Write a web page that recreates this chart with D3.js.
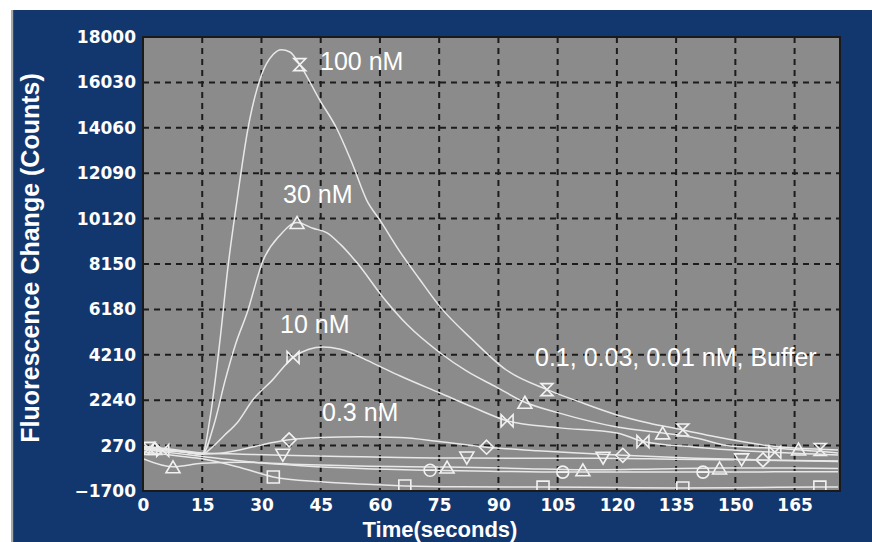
<!DOCTYPE html>
<html>
<head>
<meta charset="utf-8">
<script src="https://cdn.jsdelivr.net/npm/d3@7"></script>
<style>
  body { margin: 0; background: #fff; }
  svg { display: block; }
</style>
</head>
<body>
<div id="chart"></div>
<script>
const width = 872;
const height = 542;

// plot box inside the blue panel
const plot = { left: 143, right: 840, top: 37, bottom: 491 };

const xTicks = [0, 15, 30, 45, 60, 75, 90, 105, 120, 135, 150, 165];
const yTicks = [-1700, 270, 2240, 4210, 6180, 8150, 10120, 12090, 14060, 16030, 18000];

// [time (s), fluorescence change (counts)]
const nM100 = [[0, 150], [5, 100], [10, 0], [15, -100], [17, 1500], [19.5, 4850], [21.5, 8000], [23.8, 10900],
  [26.6, 14050], [30, 16350], [33, 17250], [35, 17450], [37.2, 17350], [39.7, 16800], [44.8, 15250], [49, 14050],
  [53, 12500], [56.7, 10900], [60, 10050], [65, 8700], [70, 7500], [75.2, 6300], [83.5, 4850], [92, 3550],
  [102.3, 2700], [110, 2200], [120, 1600], [128, 1250], [136.7, 950], [145, 650], [157, 300], [166, 150], [176, 80]];
const nM30 = [[0, 200], [5, 100], [10, 0], [15, -100], [18, 1200], [20.8, 3100], [23.5, 4700], [26.3, 6000],
  [30.4, 8300], [34.7, 9400], [39, 9950], [43, 9700], [46.6, 9500], [50, 9000], [54.2, 8200], [60.8, 6700],
  [67, 5500], [75.2, 4300], [82, 3500], [89.6, 2800], [96.7, 2150], [105, 1700], [120, 1080], [131.6, 820],
  [140, 600], [148.6, 250], [160, 150], [176, -50]];
const nM10 = [[0, 150], [5, 50], [10, 0], [15, -100], [17.5, 200], [20.5, 700], [23.8, 1250], [27.8, 2250],
  [32.7, 3100], [38, 4100], [42, 4450], [45.6, 4550], [50, 4450], [58.2, 3850], [65, 3300], [75.2, 2550],
  [84, 1900], [92.2, 1350], [105, 1050], [120, 820], [126.6, 450], [140, 200], [157, 0], [176, -140]];
const nM03 = [[0, 200], [5, 100], [10, 0], [15, -100], [20, -50], [25, 100], [30, 300], [37, 520], [45, 620],
  [55, 650], [65, 620], [75, 450], [87, 200], [100, 50], [110, -50], [121.5, -150], [140, -280], [157, -350], [176, -420]];
const nM01 = [[0, 250], [5, 150], [10, 50], [15, -50], [25, -100], [35.4, -150], [50, -200], [65, -250], [82, -270],
  [100, -280], [116.5, -280], [135, -320], [151.6, -350], [165, -380], [176, -400]];
const nM003 = [[0, -300], [7.6, -650], [15, -500], [25, -450], [40, -550], [55, -620], [77, -660], [95, -720],
  [111.4, -780], [130, -740], [146, -700], [160, -700], [176, -720]];
const nM001 = [[0, 100], [10, -100], [15, -200], [25, -400], [40, -600], [55, -720], [72.7, -800], [90, -850],
  [106.3, -880], [125, -880], [141.8, -880], [160, -870], [176, -870]];
const buffer = [[0, 0], [5, -100], [10, -200], [15, -300], [25, -700], [33, -1090], [45, -1300], [55, -1400],
  [66.3, -1480], [80, -1520], [101.3, -1530], [120, -1550], [136.7, -1570], [155, -1550], [171.4, -1530], [176, -1530]];

// symbol positions on each trace
const marks100 = [[1.5, 150], [39.7, 16800], [102.3, 2700], [136.7, 950], [171.5, 100]];
const marks30 = [[3, 150], [39, 9950], [96.7, 2150], [131.6, 820], [166, 120]];
const marks10 = [[5, 60], [38, 4100], [92.2, 1350], [126.6, 450], [160, -20]];
const marks03 = [[37, 520], [87, 200], [121.5, -150], [157, -350]];
const marks01 = [[35.4, -150], [82, -270], [116.5, -280], [151.6, -350]];
const marks003 = [[7.6, -650], [77, -660], [111.4, -780], [146, -700]];
const marks001 = [[72.7, -800], [106.3, -880], [141.8, -880]];
const marksBuf = [[33, -1090], [66.3, -1480], [101.3, -1530], [136.7, -1570], [171.4, -1530]];

const labelNames = ['100 nM', '30 nM', '10 nM', '0.3 nM', '0.1, 0.03, 0.01 nM, Buffer'];

const symbols = {
  hourglass: 'M-6,-6H6L-6,6H6Z',
  bowtie: 'M-6,-6V6L6,-6V6Z',
  up: 'M0,-6L7,6H-7Z',
  down: 'M0,6L7,-6H-7Z',
  diamond: 'M0,-7L7,0L0,7L-7,0Z',
  circle: 'M-6,0A6,6 0 1,0 6,0A6,6 0 1,0 -6,0ZM-6,0H6',
  square: 'M-6,-6H6V6H-6Z'
};

const series = [
  { data: nM100, marks: marks100, sym: 'hourglass' },
  { data: nM30, marks: marks30, sym: 'up' },
  { data: nM10, marks: marks10, sym: 'bowtie' },
  { data: nM03, marks: marks03, sym: 'diamond' },
  { data: nM01, marks: marks01, sym: 'down' },
  { data: nM003, marks: marks003, sym: 'up' },
  { data: nM001, marks: marks001, sym: 'circle' },
  { data: buffer, marks: marksBuf, sym: 'square' }
];

const svg = d3.select('#chart').append('svg')
  .attr('width', width)
  .attr('height', height);

// blue panel with its grey left edge
svg.append('rect').attr('x', 11).attr('y', 10).attr('width', width - 11).attr('height', height - 10)
  .attr('fill', '#12376f');
svg.append('rect').attr('x', 11).attr('y', 10).attr('width', 2).attr('height', height - 10).attr('fill', '#a9a9a9');
svg.append('rect').attr('x', 13).attr('y', 10).attr('width', 1).attr('height', height - 10).attr('fill', '#4a4a4a');

const x = d3.scaleLinear().domain([0, 176.5]).range([plot.left, plot.right]);
const y = d3.scaleLinear().domain([-1700, 18000]).range([plot.bottom, plot.top]);

svg.append('rect')
  .attr('x', plot.left).attr('y', plot.top)
  .attr('width', plot.right - plot.left).attr('height', plot.bottom - plot.top)
  .attr('fill', '#8b8b8b');

// dashed grid
const grid = svg.append('g').attr('stroke', '#1c1c1c').attr('stroke-width', 2).attr('stroke-dasharray', '6,5');
grid.selectAll('.gx').data(xTicks.slice(1)).enter().append('line')
  .attr('x1', d => x(d)).attr('x2', d => x(d))
  .attr('y1', plot.top).attr('y2', plot.bottom);
grid.selectAll('.gy').data(yTicks.slice(1, -1)).enter().append('line')
  .attr('x1', plot.left).attr('x2', plot.right)
  .attr('y1', d => y(d)).attr('y2', d => y(d));

svg.append('clipPath').attr('id', 'plotclip').append('rect')
  .attr('x', plot.left).attr('y', plot.top)
  .attr('width', plot.right - plot.left).attr('height', plot.bottom - plot.top);

const line = d3.line()
  .x(d => x(d[0]))
  .y(d => y(d[1]))
  .curve(d3.curveMonotoneX);

const traces = svg.append('g').attr('clip-path', 'url(#plotclip)');
series.forEach(s => {
  traces.append('path')
    .attr('d', line(s.data))
    .attr('fill', 'none')
    .attr('stroke', '#e8e8e8')
    .attr('stroke-width', 1.5);
  traces.selectAll(null).data(s.marks).enter().append('path')
    .attr('transform', d => `translate(${x(d[0])},${y(d[1])})`)
    .attr('d', symbols[s.sym])
    .attr('fill', 'none')
    .attr('stroke', '#f2f2f2')
    .attr('stroke-width', 1.6);
});

// plot frame
svg.append('rect')
  .attr('x', plot.left).attr('y', plot.top)
  .attr('width', plot.right - plot.left).attr('height', plot.bottom - plot.top)
  .attr('fill', 'none').attr('stroke', '#1a1a1a').attr('stroke-width', 2);

// axes
const yAxis = svg.append('g')
  .attr('transform', `translate(${plot.left - 7},0)`)
  .call(d3.axisLeft(y).tickValues(yTicks).tickSize(0).tickPadding(0).tickFormat(d3.format('d')));
const xAxis = svg.append('g')
  .attr('transform', `translate(0,${plot.bottom + 8})`)
  .call(d3.axisBottom(x).tickValues(xTicks).tickSize(0).tickPadding(0).tickFormat(d3.format('d')));
[yAxis, xAxis].forEach(a => {
  a.select('.domain').remove();
  a.selectAll('text')
    .attr('fill', '#ffffff')
    .style('font-family', 'DejaVu Sans')
    .style('font-weight', 'bold')
    .style('font-size', '17px');
});
xAxis.selectAll('text').attr('dy', '0.71em');

svg.append('text')
  .attr('transform', 'translate(39,258) rotate(-90)')
  .attr('text-anchor', 'middle')
  .attr('fill', '#ffffff')
  .style('font-family', 'Liberation Sans')
  .style('font-weight', 'bold')
  .style('font-size', '25px')
  .text('Fluorescence Change (Counts)');

svg.append('text')
  .attr('x', 440).attr('y', 537)
  .attr('text-anchor', 'middle')
  .attr('fill', '#ffffff')
  .style('font-family', 'Liberation Sans')
  .style('font-weight', 'bold')
  .style('font-size', '22px')
  .text('Time(seconds)');

// concentration labels
const labelSpots = [[320, 70], [283, 203], [280, 333], [322, 421], [535, 366]];
svg.selectAll('.conc').data(labelNames).enter().append('text')
  .attr('x', (d, i) => labelSpots[i][0])
  .attr('y', (d, i) => labelSpots[i][1])
  .attr('fill', '#ffffff')
  .style('font-family', 'Liberation Sans')
  .style('font-size', '25px')
  .text(d => d);
</script>
</body>
</html>
